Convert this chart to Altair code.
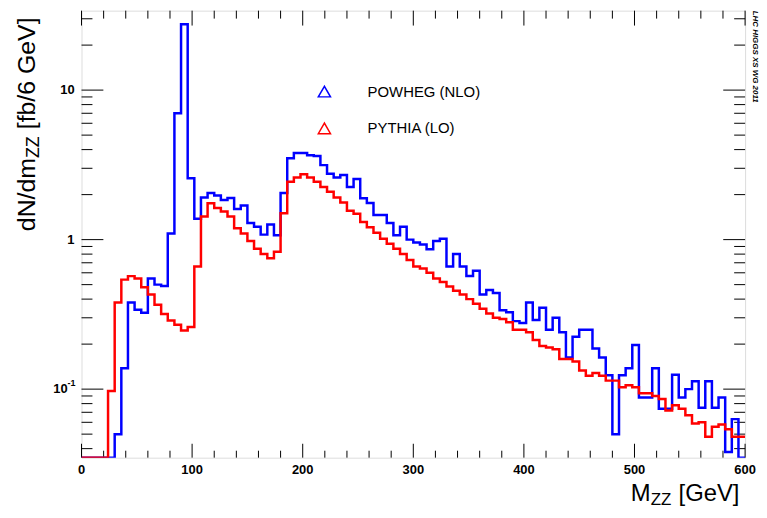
import altair as alt
import pandas as pd

# ---------------- data ----------------
bin_edges = list(range(0, 600, 6))  # lower edges of the 6 GeV bins, 0..594

powheg = [
    0, 0, 0, 0, 0,
    0.05, 0.138, 0.38, 0.34, 0.324, 0.55, 0.50, 0.49, 1.10, 7.0,
    27.6, 2.57, 1.38, 1.91, 2.05, 1.97, 1.84, 1.90, 1.60, 1.69,
    1.29, 1.22, 1.08, 1.26, 1.07, 2.05, 3.5, 3.8, 3.8, 3.67,
    3.62, 3.15, 2.76, 2.6, 2.71, 2.25, 2.54, 1.89, 1.76, 1.46,
    1.46, 1.29, 1.07, 1.22, 1.0, 0.955, 0.926, 0.863, 0.98, 1.015,
    0.66, 0.80, 0.66, 0.571, 0.62, 0.43, 0.46, 0.44, 0.337, 0.327,
    0.285, 0.277, 0.38, 0.29, 0.35, 0.25, 0.30, 0.24, 0.163, 0.224,
    0.25, 0.25, 0.187, 0.163, 0.124, 0.05, 0.124, 0.138, 0.197, 0.088,
    0.088, 0.138, 0.074, 0.074, 0.125, 0.088, 0.10, 0.113, 0.075, 0.113,
    0.075, 0.088, 0.038, 0.063, 0,
]

pythia = [
    0, 0, 0, 0,
    0.097, 0.38, 0.54, 0.57, 0.55, 0.48, 0.43, 0.367, 0.318, 0.288,
    0.27, 0.247, 0.26, 0.66, 1.43, 1.75, 1.63, 1.54, 1.43, 1.19,
    1.10, 0.98, 0.87, 0.80, 0.75, 0.83, 1.50, 2.44, 2.6, 2.74,
    2.6, 2.44, 2.25, 2.09, 1.91, 1.77, 1.56, 1.49, 1.31, 1.21,
    1.11, 1.015, 0.94, 0.87, 0.80, 0.73, 0.66, 0.64, 0.60, 0.55,
    0.52, 0.485, 0.455, 0.43, 0.40, 0.373, 0.345, 0.32, 0.30, 0.295,
    0.28, 0.25, 0.25, 0.24, 0.213, 0.194, 0.19, 0.185, 0.159, 0.159,
    0.153, 0.133, 0.123, 0.128, 0.123, 0.114, 0.114, 0.103, 0.106, 0.103,
    0.094, 0.094, 0.09, 0.086, 0.072, 0.078, 0.074, 0.067, 0.059, 0.06,
    0.048, 0.056, 0.058, 0.054, 0.048, 0.048,
]

series_names = ["POWHEG (NLO)", "PYTHIA (LO)"]
series_colors = ["#0000ff", "#ff0000"]

x_major = [0, 100, 200, 300, 400, 500, 600]
x_labels = ["0", "100", "200", "300", "400", "500", "600"]
x_minor = [v for v in range(0, 601, 20) if v % 100 != 0]
y_major = [10, 1]
y_major_labels = ["10", "1"]
y_minor = [0.04, 0.05, 0.06, 0.07, 0.08, 0.09,
           0.2, 0.3, 0.4, 0.5, 0.6, 0.7, 0.8, 0.9,
           2, 3, 4, 5, 6, 7, 8, 9, 20, 30]

# ---------------- layout ----------------
YMIN, YMAX = 0.0348, 34.0
W, H = 668, 450
FONT = "Liberation Sans"

xs = alt.Scale(domain=[0, 600], nice=False, zero=False)
ys = alt.Scale(type="log", domain=[YMIN, YMAX], nice=False)
cs = alt.Scale(domain=series_names, range=series_colors)

leg = alt.Legend(
    title=None, orient="none", legendX=237, legendY=74,
    symbolType="triangle-up", symbolSize=150, symbolStrokeWidth=1.5,
    symbolFillColor="white", labelFontSize=15, labelFont=FONT,
    labelColor="black", labelOffset=36, rowPadding=20, padding=0,
)


def hist_frame(name, vals):
    rows = []
    for e, v in zip(bin_edges, vals):
        rows.append({"series": name, "m": e, "n": max(v, YMIN)})
    rows.append({"series": name, "m": 600, "n": max(vals[-1], YMIN)})
    return pd.DataFrame(rows)


def hist_layer(name, vals):
    return alt.Chart(hist_frame(name, vals)).mark_line(
        interpolate="step-after", strokeWidth=2.5, clip=True
    ).encode(
        x=alt.X("m:Q", scale=xs, axis=None),
        y=alt.Y("n:Q", scale=ys, axis=None),
        color=alt.Color("series:N", scale=cs, legend=leg),
    )


def xtick(vals, y0, y1):
    return alt.Chart(pd.DataFrame({"v": vals})).mark_rule(
        color="black", strokeWidth=1
    ).encode(x=alt.X("v:Q", scale=xs, axis=None), y=alt.value(y0), y2=alt.value(y1))


def ytick(vals, x0, x1):
    return alt.Chart(pd.DataFrame({"v": vals})).mark_rule(
        color="black", strokeWidth=1
    ).encode(y=alt.Y("v:Q", scale=ys, axis=None), x=alt.value(x0), x2=alt.value(x1))


def label(text, x, y, size, angle=0, align="left", style="normal", weight="normal"):
    return alt.Chart(pd.DataFrame({"a": [0]})).mark_text(
        text=text, fontSize=size, font=FONT, angle=angle, align=align,
        baseline="alphabetic", fontStyle=style, fontWeight=weight, color="black"
    ).encode(x=alt.value(x), y=alt.value(y))


ticks = [
    xtick(x_major, H, H - 14), xtick(x_minor, H, H - 7),
    xtick(x_major, 0, 15), xtick(x_minor, 0, 8),
    ytick([0.1] + y_major, 0, 22), ytick(y_minor, 0, 11),
    ytick([0.1] + y_major, W - 22, W), ytick(y_minor, W - 11, W),
]

xlab = alt.Chart(pd.DataFrame({"v": x_major, "t": x_labels})).mark_text(
    fontSize=13, font=FONT, fontWeight="bold", baseline="middle", align="center", color="black"
).encode(x=alt.X("v:Q", scale=xs, axis=None), y=alt.value(H + 12), text="t:N")

ylab = alt.Chart(pd.DataFrame({"v": y_major, "t": y_major_labels})).mark_text(
    fontSize=13, font=FONT, fontWeight="bold", baseline="middle", align="right", color="black"
).encode(y=alt.Y("v:Q", scale=ys, axis=None), x=alt.value(-7), text="t:N")

ylab_tenth = alt.Chart(pd.DataFrame({"v": [0.1], "t": ["10"]})).mark_text(
    fontSize=13, font=FONT, fontWeight="bold", baseline="middle", align="right", color="black"
).encode(y=alt.Y("v:Q", scale=ys, axis=None), x=alt.value(-14), text="t:N")

ylab_exp = alt.Chart(pd.DataFrame({"v": [0.1], "t": ["-1"]})).mark_text(
    fontSize=9, font=FONT, fontWeight="bold", baseline="middle", align="left", dy=-6, color="black"
).encode(y=alt.Y("v:Q", scale=ys, axis=None), x=alt.value(-14), text="t:N")

# axis titles assembled from pieces (subscripts)
ytitle = [
    label("dN/dm", -47, 222, 25, angle=270),
    label("ZZ", -43, 148.4, 18, angle=270),
    label("[fb/6 GeV]", -47, 119.4, 25, angle=270),
]
xtitle = [
    label("M", 553, 494, 24),
    label("ZZ", 573, 498, 17),
    label("[GeV]", 601, 494, 24),
]
stamp = label("LHC HIGGS XS WG 2011", 676, 0, 8, angle=90, style="italic", weight="bold")

chart = alt.layer(
    *ticks,
    hist_layer(series_names[0], powheg),
    hist_layer(series_names[1], pythia),
    xlab, ylab, ylab_tenth, ylab_exp,
    *ytitle, *xtitle, stamp,
).properties(
    width=W, height=H,
    autosize=alt.AutoSizeParams(type="none"),
    padding={"left": 74, "top": 1, "right": 14, "bottom": 49},
    background="white",
).configure_view(stroke="black", strokeWidth=1).configure(font=FONT)

chart.save("out.html", embed_options={"renderer": "svg", "actions": False})
